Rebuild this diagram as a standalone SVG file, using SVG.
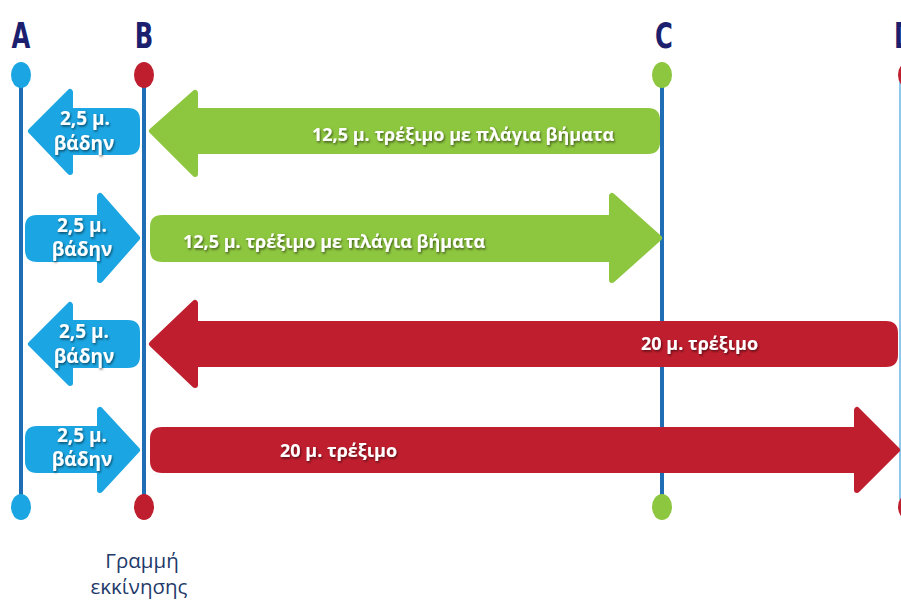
<svg xmlns="http://www.w3.org/2000/svg" width="901" height="600" viewBox="0 0 901 600">
<defs>
<style>
.vline{stroke:#1f6db4;stroke-width:4;fill:none}
.arr{stroke-width:6;stroke-linejoin:round}
.blue{fill:#1ba5e2;stroke:#1ba5e2}
.green{fill:#8dc63f;stroke:#8dc63f}
.red{fill:#bf1e2e;stroke:#bf1e2e}
.lbl{font-family:"Open Sans","DejaVu Sans",sans-serif;font-weight:bold;fill:#ffffff;font-size:18px}
.blbl{text-anchor:middle;font-size:19px}
.head{font-family:"DejaVu Sans Condensed","DejaVu Sans",sans-serif;font-weight:bold;fill:#1b1f6e;font-size:36px;text-anchor:middle}
.foot{font-family:"Open Sans","DejaVu Sans",sans-serif;fill:#1f3a6a;font-size:20.5px;text-anchor:middle}
</style>
<filter id="sh" x="-10%" y="-30%" width="120%" height="160%">
<feDropShadow dx="1" dy="1.5" stdDeviation="0.8" flood-color="#000" flood-opacity="0.55"/>
</filter>
</defs>
<rect width="901" height="600" fill="#ffffff"/>

<g id="lines">
<line class="vline" x1="21" y1="80" x2="21" y2="500"/>
<line class="vline" x1="144" y1="80" x2="144" y2="500"/>
<line class="vline" x1="662" y1="80" x2="662" y2="500"/>
<line x1="900" y1="80" x2="900" y2="500" stroke="#8fc8ea" stroke-width="2"/>
</g>

<g id="node-A">
<text class="head" transform="translate(21,48) scale(0.75,1)">A</text>
<ellipse cx="21" cy="75" rx="10" ry="13" fill="#1ba5e2"/>
<ellipse cx="21" cy="507" rx="10" ry="13" fill="#1ba5e2"/>
</g>
<g id="node-B">
<text class="head" transform="translate(144,48) scale(0.75,1)">B</text>
<ellipse cx="144" cy="75" rx="10" ry="13" fill="#bf1e2e"/>
<ellipse cx="144" cy="507" rx="10" ry="13" fill="#bf1e2e"/>
</g>
<g id="node-C">
<text class="head" transform="translate(664,48) scale(0.75,1)">C</text>
<ellipse cx="662" cy="75" rx="10" ry="13" fill="#8dc63f"/>
<ellipse cx="662" cy="507" rx="10" ry="13" fill="#8dc63f"/>
</g>
<g id="node-D">
<text class="head" transform="translate(904,48) scale(0.75,1)">D</text>
<ellipse cx="908" cy="75" rx="10" ry="13" fill="#bf1e2e"/>
<ellipse cx="908" cy="507" rx="10" ry="13" fill="#bf1e2e"/>
</g>

<g id="connectors">
<g id="row1-walk">
<path class="arr blue" d="M31,131 L70,92 L70,111 L128,111 Q137,111 137,120 L137,143 Q137,152 128,152 L70,152 L70,172 Z"/>
<text class="lbl blbl" x="85" y="125" filter="url(#sh)">2,5 μ.</text>
<text class="lbl blbl" x="84" y="150" filter="url(#sh)">βάδην</text>
</g>
<g id="row1-side">
<path class="arr green" d="M152,131 L195,93 L195,111 L648,111 Q657,111 657,120 L657,142 Q657,151 648,151 L195,151 L195,174 Z"/>
<text class="lbl" x="312" y="141" filter="url(#sh)">12,5 μ. τρέξιμο με πλάγια βήματα</text>
</g>
<g id="row2-walk">
<path class="arr blue" d="M137,238 L100,196 L100,218 L37,218 Q28,218 28,227 L28,250 Q28,259 37,259 L100,259 L100,280 Z"/>
<text class="lbl blbl" x="82" y="232" filter="url(#sh)">2,5 μ.</text>
<text class="lbl blbl" x="82" y="256" filter="url(#sh)">βάδην</text>
</g>
<g id="row2-side">
<path class="arr green" d="M659,238 L612,196 L612,218 L162,218 Q153,218 153,227 L153,250 Q153,259 162,259 L612,259 L612,280 Z"/>
<text class="lbl" x="183" y="248" filter="url(#sh)">12,5 μ. τρέξιμο με πλάγια βήματα</text>
</g>
<g id="row3-walk">
<path class="arr blue" d="M31,344 L70,305 L70,323 L128,323 Q137,323 137,332 L137,356 Q137,365 128,365 L70,365 L70,383 Z"/>
<text class="lbl blbl" x="84" y="338" filter="url(#sh)">2,5 μ.</text>
<text class="lbl blbl" x="84" y="363" filter="url(#sh)">βάδην</text>
</g>
<g id="row3-run">
<path class="arr red" d="M152,344 L195,303 L195,324 L886,324 Q895,324 895,333 L895,355 Q895,364 886,364 L195,364 L195,385 Z"/>
<text class="lbl" x="641" y="350" filter="url(#sh)">20 μ. τρέξιμο</text>
</g>
<g id="row4-walk">
<path class="arr blue" d="M137,450 L100,410 L100,429 L37,429 Q28,429 28,438 L28,461 Q28,470 37,470 L100,470 L100,490 Z"/>
<text class="lbl blbl" x="82" y="442" filter="url(#sh)">2,5 μ.</text>
<text class="lbl blbl" x="82" y="466" filter="url(#sh)">βάδην</text>
</g>
<g id="row4-run">
<path class="arr red" d="M897,450 L857,410 L857,430 L162,430 Q153,430 153,439 L153,461 Q153,470 162,470 L857,470 L857,490 Z"/>
<text class="lbl" x="280" y="457" filter="url(#sh)">20 μ. τρέξιμο</text>
</g>
</g>

<g id="start-label">
<text class="foot" x="142" y="568">Γραμμή</text>
<text class="foot" x="139" y="594">εκκίνησης</text>
</g>
</svg>
